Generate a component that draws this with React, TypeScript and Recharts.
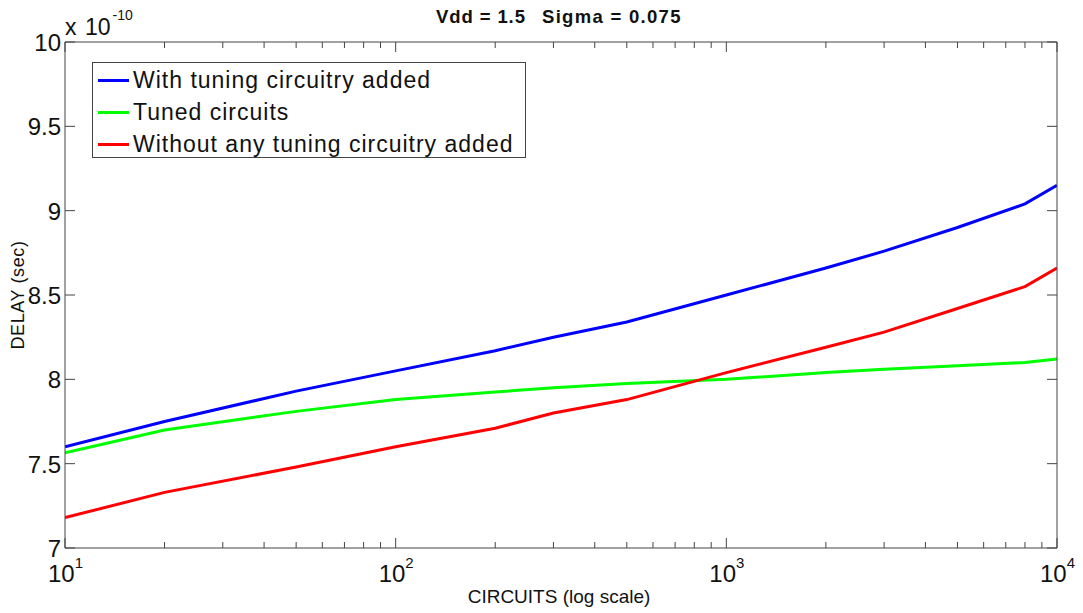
import { LineChart, Line, XAxis, YAxis } from "recharts";

const circuits = [10, 20, 50, 100, 200, 300, 500, 1000, 2000, 3000, 5000, 8000, 10000];
const withTuning = [7.6, 7.75, 7.93, 8.05, 8.17, 8.25, 8.34, 8.5, 8.66, 8.76, 8.9, 9.04, 9.15];
const tuned = [7.565, 7.7, 7.81, 7.88, 7.925, 7.95, 7.975, 8.0, 8.04, 8.06, 8.08, 8.1, 8.12];
const withoutTuning = [7.18, 7.33, 7.48, 7.6, 7.71, 7.8, 7.88, 8.04, 8.19, 8.28, 8.42, 8.55, 8.66];

const seriesNames = ["With tuning circuitry added", "Tuned circuits", "Without any tuning circuitry added"];
const seriesColors = ["#0000ff", "#00ff00", "#ff0000"];

const xTicks = [1, 2, 3].flatMap((e) => [1, 2, 3, 4, 5, 6, 7, 8, 9].map((m) => m * 10 ** e)).concat([10000]);
const yTicks = [7, 7.5, 8, 8.5, 9, 9.5, 10];

const data = circuits.map((c, i) => ({
  circuits: c,
  withTuning: withTuning[i],
  tuned: tuned[i],
  withoutTuning: withoutTuning[i],
}));

const FONT = '"Liberation Sans", Arial, sans-serif';
const AXIS = "#444";

const XTick = ({ x, y, payload, top }: any) => {
  const v = payload.value;
  const lg = Math.log10(v);
  const exp = Math.round(lg);
  const major = Math.abs(lg - exp) < 1e-9;
  const len = major ? 10 : 6;
  const dir = top ? 1 : -1;
  return (
    <g>
      <line x1={x} y1={y} x2={x} y2={y + dir * len} stroke={AXIS} strokeWidth={1} />
      {!top && major && (
        <text x={x - 17} y={y + 34} fontFamily={FONT} fill="#111" textAnchor="start">
          <tspan fontSize={24}>10</tspan>
          <tspan fontSize={15} dy={-14}>{exp}</tspan>
        </text>
      )}
    </g>
  );
};

const YTick = ({ x, y, payload, right }: any) => {
  const dir = right ? -1 : 1;
  return (
    <g>
      <line x1={x} y1={y} x2={x + dir * 10} y2={y} stroke={AXIS} strokeWidth={1} />
      {!right && (
        <text x={x - 4} y={y + 9} fontFamily={FONT} fontSize={24} fill="#111" textAnchor="end">
          {payload.value}
        </text>
      )}
    </g>
  );
};

const LegendBox = () => (
  <div
    style={{
      position: "absolute",
      left: 92,
      top: 62,
      width: 434,
      height: 96,
      border: `1px solid ${AXIS}`,
      background: "#fff",
      boxSizing: "border-box",
      padding: "1px 0 0 5px",
      fontFamily: FONT,
      fontSize: 23,
      letterSpacing: 1,
      color: "#111",
    }}
  >
    {seriesNames.map((n, i) => (
      <div key={n} style={{ display: "flex", alignItems: "center", height: 32 }}>
        <div style={{ width: 31, height: 3, background: seriesColors[i], marginRight: 4 }} />
        <span>{n}</span>
      </div>
    ))}
  </div>
);

export default function App() {
  return (
    <div style={{ position: "relative", width: 1083, height: 613, background: "#fff" }}>
      <style>{"body{margin:0}"}</style>
      <LineChart width={1083} height={613} data={data} margin={{ top: 0, right: 0, bottom: 0, left: 0 }}>
        <XAxis
          dataKey="circuits"
          type="number"
          scale="log"
          domain={[10, 10000]}
          allowDataOverflow
          ticks={xTicks}
          interval={0}
          height={65}
          tickSize={0}
          tickMargin={0}
          tickLine={false}
          axisLine={{ stroke: AXIS }}
          tick={<XTick />}
        />
        <XAxis
          xAxisId="top"
          orientation="top"
          dataKey="circuits"
          type="number"
          scale="log"
          domain={[10, 10000]}
          allowDataOverflow
          ticks={xTicks}
          interval={0}
          height={42}
          tickSize={0}
          tickMargin={0}
          tickLine={false}
          axisLine={{ stroke: AXIS }}
          tick={<XTick top />}
        />
        <YAxis
          type="number"
          domain={[7, 10]}
          allowDataOverflow
          ticks={yTicks}
          interval={0}
          width={65}
          tickSize={0}
          tickMargin={0}
          tickLine={false}
          axisLine={{ stroke: AXIS }}
          tick={<YTick />}
        />
        <YAxis
          yAxisId="right"
          orientation="right"
          type="number"
          domain={[7, 10]}
          allowDataOverflow
          ticks={yTicks}
          interval={0}
          width={26}
          tickSize={0}
          tickMargin={0}
          tickLine={false}
          axisLine={{ stroke: AXIS }}
          tick={<YTick right />}
        />
        <Line dataKey="withTuning" name={seriesNames[0]} stroke={seriesColors[0]} strokeWidth={3} dot={false} isAnimationActive={false} type="linear" />
        <Line dataKey="tuned" name={seriesNames[1]} stroke={seriesColors[1]} strokeWidth={3} dot={false} isAnimationActive={false} type="linear" />
        <Line dataKey="withoutTuning" name={seriesNames[2]} stroke={seriesColors[2]} strokeWidth={3} dot={false} isAnimationActive={false} type="linear" />
      </LineChart>
      <LegendBox />
      <svg width={1083} height={613} style={{ position: "absolute", left: 0, top: 0, pointerEvents: "none" }}>
        <text x={436} y={23} fontFamily={FONT} fontSize={18.5} fontWeight="bold" fill="#111" letterSpacing={0.9}>
          Vdd = 1.5
        </text>
        <text x={542} y={23} fontFamily={FONT} fontSize={18.5} fontWeight="bold" fill="#111" letterSpacing={1.3}>
          Sigma = 0.075
        </text>
        <text x={65} y={35} fontFamily={FONT} fill="#111">
          <tspan fontSize={23}>x</tspan>
          <tspan x={85} fontSize={23}>10</tspan>
          <tspan fontSize={14} dy={-15} dx={2}>-10</tspan>
        </text>
        <text x={559} y={603} fontFamily={FONT} fontSize={19} fill="#111" textAnchor="middle">
          CIRCUITS (log scale)
        </text>
        <text
          x={24}
          y={295}
          fontFamily={FONT}
          fontSize={18}
          fill="#111"
          textAnchor="middle"
          letterSpacing={0.6}
          transform="rotate(-90 24 295)"
        >
          DELAY (sec)
        </text>
      </svg>
    </div>
  );
}
